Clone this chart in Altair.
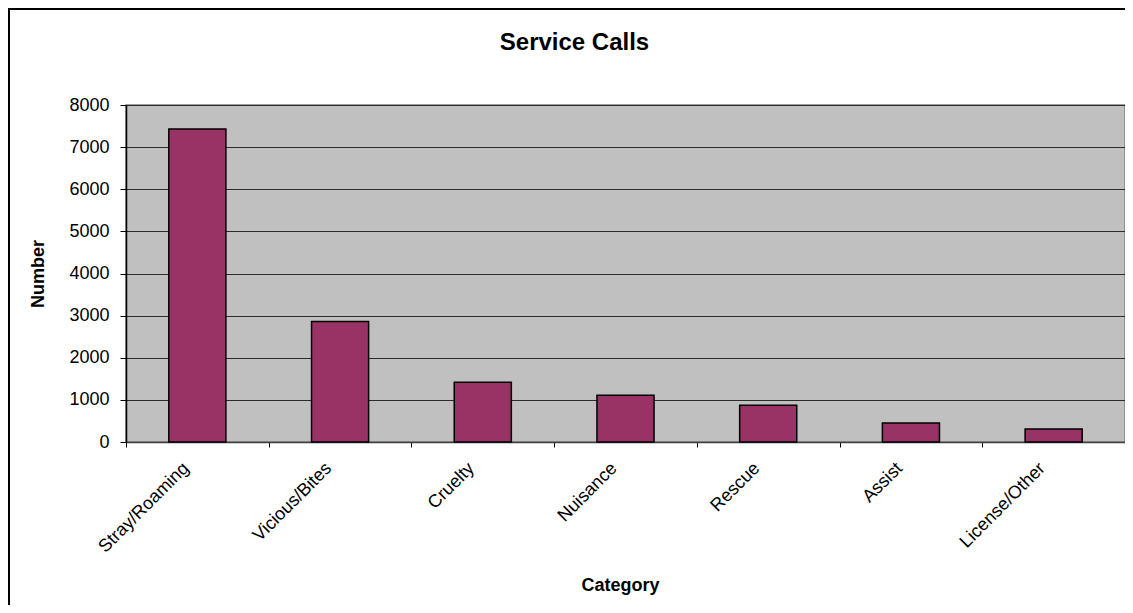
import altair as alt
import pandas as pd

categories = ["Stray/Roaming", "Vicious/Bites", "Cruelty", "Nuisance", "Rescue", "Assist", "License/Other"]
values = [7430, 2860, 1420, 1110, 870, 450, 310]
y_ticks = [0, 1000, 2000, 3000, 4000, 5000, 6000, 7000, 8000]

df = pd.DataFrame({"Category": categories, "Number": values})

FONT = "Liberation Sans"

bars = alt.Chart(df).mark_bar(
    color="#993366", stroke="#000000", strokeWidth=1.5, width=alt.RelativeBandSize(0.4)
).encode(
    x=alt.X("Category:N", sort=categories,
            scale=alt.Scale(paddingInner=0, paddingOuter=0),
            axis=alt.Axis(title="Category", labelAngle=-45, labelAlign="right",
                          labelBaseline="top", labelOffset=-18, labelPadding=12,
                          tickBand="extent", tickSize=5, tickColor="#000000",
                          domainColor="#404040", domainWidth=1.5,
                          labelFont=FONT, labelFontSize=18, labelColor="#000000",
                          titleFont=FONT, titleFontSize=18, titleFontWeight="bold",
                          titleColor="#000000", titleX=494, titleY=148,
                          titleBaseline="alphabetic", titleAnchor="middle",
                          grid=False)),
    y=alt.Y("Number:Q",
            scale=alt.Scale(domain=[0, 8000], nice=False),
            axis=alt.Axis(title="Number", values=y_ticks, format="d",
                          tickSize=6, tickColor="#000000", domainColor="#000000",
                          domainWidth=1.5,
                          labelFont=FONT, labelFontSize=18, labelColor="#000000",
                          labelPadding=11,
                          titleFont=FONT, titleFontSize=18, titleFontWeight="bold",
                          titleColor="#000000", titleX=-79, titleY=168.5,
                          gridColor="#2b2b2b", gridWidth=1, gridOpacity=1)),
)

frame = alt.Chart(alt.Data(values=[{"f": 1}])).mark_rect(
    fill=None, stroke="#000000", strokeWidth=2, clip=False
).encode(
    x=alt.value(-117), x2=alt.value(1200), y=alt.value(-96), y2=alt.value(800)
)

chart = alt.layer(bars, frame).properties(
    width=999,
    height=337,
    title=alt.TitleParams("Service Calls", font=FONT, fontSize=24, fontWeight="bold",
                          color="#000000", anchor="middle", dx=-51, offset=-47),
    autosize=alt.AutoSizeParams(type="none"),
    padding={"left": 118, "top": 97, "right": 0, "bottom": 163},
).configure(
    background="#ffffff"
).configure_view(
    fill="#C0C0C0", stroke="#808080", strokeWidth=1.5
)

chart.save("out.html", embed_options={"renderer": "svg", "actions": False})
